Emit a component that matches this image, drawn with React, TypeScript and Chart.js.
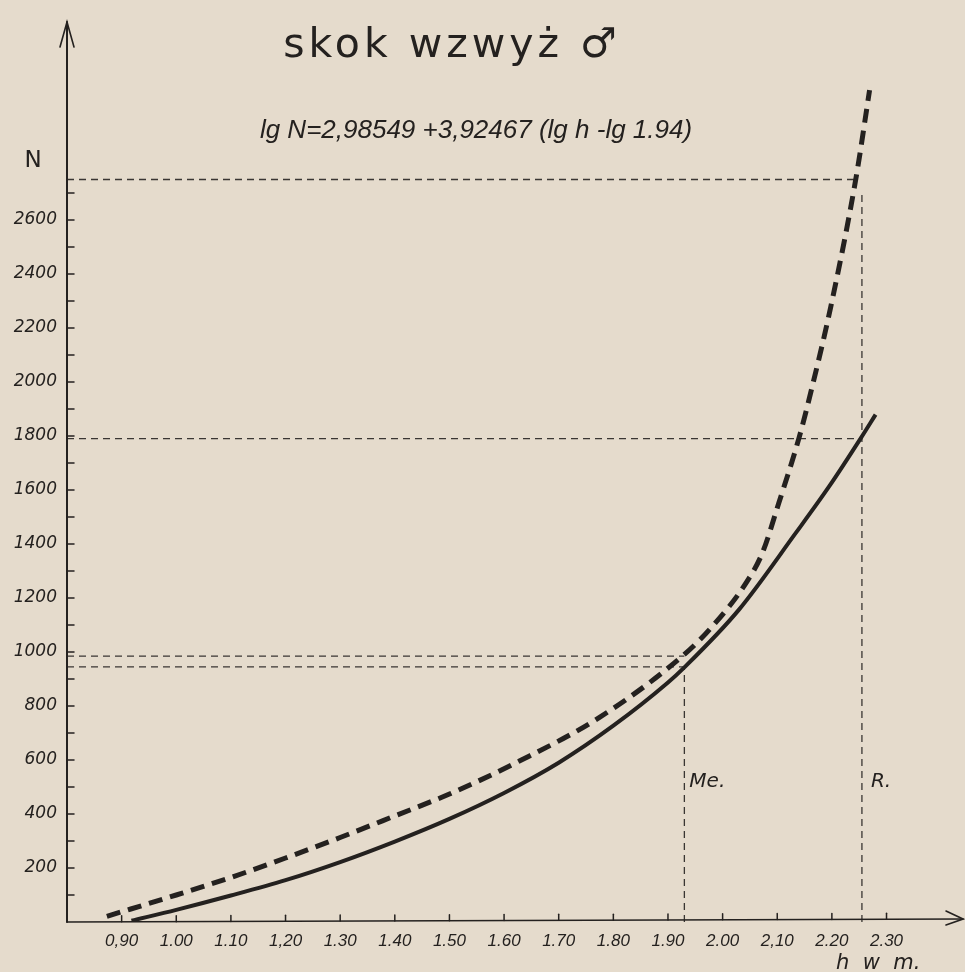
import React, { useEffect, useRef } from "react";
import { Chart, registerables } from "chart.js";

Chart.register(...registerables);

// ---- data ----
// height h (m) and number N for the solid (fitted) curve
const solidH = [0.918, 1.0, 1.1, 1.2, 1.3, 1.4, 1.5, 1.6, 1.7, 1.8, 1.9, 1.93, 2.03, 2.134, 2.195, 2.253, 2.28];
const solidN = [5, 45, 98, 155, 222, 298, 382, 478, 590, 727, 887, 943, 1157, 1441, 1613, 1792, 1879];

// height h (m) and number N for the thick dashed curve
const dashedH = [0.873, 1.0, 1.1, 1.2, 1.3, 1.4, 1.5, 1.628, 1.774, 1.93, 1.979, 2.043, 2.073, 2.103, 2.14, 2.164, 2.198, 2.244, 2.269];
const dashedN = [21, 100, 165, 237, 313, 393, 474, 596, 757, 991, 1090, 1256, 1368, 1553, 1794, 1983, 2279, 2754, 3081];

// guide lines: median (Me.) and record (R.)
const medianH = 1.93;
const medianNDashed = 985;
const medianNSolid = 945;
const recordH = 2.255;
const recordHDashed = 2.248;
const recordNDashed = 2750;
const recordNSolid = 1790;

// axes
const xMin = 0.8;
const xMax = 2.44;
const yMin = 0;
const yMax = 3300;
const xTickValues = [0.9, 1.0, 1.1, 1.2, 1.3, 1.4, 1.5, 1.6, 1.7, 1.8, 1.9, 2.0, 2.1, 2.2, 2.3];
const xTickLabels = ["0,90", "1.00", "1.10", "1,20", "1.30", "1.40", "1.50", "1.60", "1.70", "1.80", "1.90", "2.00", "2,10", "2.20", "2.30"];
const yTickValues = [100, 200, 300, 400, 500, 600, 700, 800, 900, 1000, 1100, 1200, 1300, 1400, 1500, 1600, 1700, 1800, 1900, 2000, 2100, 2200, 2300, 2400, 2500, 2600, 2700];
const yLabelValues = [200, 400, 600, 800, 1000, 1200, 1400, 1600, 1800, 2000, 2200, 2400, 2600];

const titleText = "skok wzwyż ♂";
const formulaText = "lg N=2,98549 +3,92467 (lg h -lg 1.94)";
const yAxisTitle = "N";
const xAxisTitle = "h  w  m.";
const medianLabel = "Me.";
const recordLabel = "R.";

const INK = "#24211f";
const PAPER = "#e5dbcc";

const toPoints = (xs: number[], ys: number[]) => xs.map((x, i) => ({ x, y: ys[i] }));

const guide = (pts: { x: number; y: number }[]) => ({
  data: pts,
  borderColor: "#3a3633",
  borderWidth: 1.3,
  borderDash: [7, 5],
  pointRadius: 0,
  tension: 0,
  fill: false,
});

const paperPlugin = {
  id: "paper",
  beforeDraw(chart: any) {
    const { ctx, width, height } = chart;
    ctx.save();
    ctx.fillStyle = PAPER;
    ctx.fillRect(0, 0, width, height);
    ctx.restore();
  },
};

const decorPlugin = {
  id: "decor",
  afterDraw(chart: any) {
    const { ctx, chartArea, scales } = chart;
    const xs = scales.x;
    const ys = scales.y;
    const x0 = chartArea.left;
    const y0 = chartArea.bottom;
    ctx.save();
    ctx.strokeStyle = INK;
    ctx.fillStyle = INK;
    ctx.lineCap = "round";

    // y axis with arrow
    ctx.lineWidth = 2;
    ctx.beginPath();
    ctx.moveTo(x0, y0);
    ctx.lineTo(x0, 22);
    ctx.stroke();
    ctx.lineWidth = 1.6;
    ctx.beginPath();
    ctx.moveTo(x0 - 7, 47);
    ctx.lineTo(x0, 22);
    ctx.lineTo(x0 + 7, 47);
    ctx.stroke();

    // x axis with arrow
    ctx.lineWidth = 1.6;
    ctx.beginPath();
    ctx.moveTo(x0, y0);
    ctx.lineTo(963, y0 - 3);
    ctx.stroke();
    ctx.beginPath();
    ctx.moveTo(946, y0 - 11);
    ctx.lineTo(963, y0 - 3);
    ctx.lineTo(946, y0 + 3);
    ctx.stroke();

    // tick marks (inside)
    ctx.lineWidth = 1.5;
    yTickValues.forEach((v) => {
      const py = ys.getPixelForValue(v);
      ctx.beginPath();
      ctx.moveTo(x0, py);
      ctx.lineTo(x0 + 7, py);
      ctx.stroke();
    });
    xTickValues.forEach((v) => {
      const px = xs.getPixelForValue(v);
      const base = y0 - ((px - x0) / (963 - x0)) * 3;
      ctx.beginPath();
      ctx.moveTo(px, base);
      ctx.lineTo(px, base - 6);
      ctx.stroke();
    });

    // texts
    ctx.textBaseline = "alphabetic";
    ctx.textAlign = "center";
    ctx.font = "41px 'DejaVu Sans'";
    try { (ctx as any).letterSpacing = "4px"; } catch (e) {}
    ctx.fillText(titleText, 452, 57);
    try { (ctx as any).letterSpacing = "0px"; } catch (e) {}

    ctx.font = "italic 26px 'Liberation Sans'";
    ctx.fillText(formulaText, 476, 138);

    ctx.font = "23px 'DejaVu Sans'";
    ctx.fillText(yAxisTitle, 33, 167);

    ctx.textAlign = "left";
    ctx.font = "italic 20px 'DejaVu Sans'";
    ctx.fillText(medianLabel, xs.getPixelForValue(medianH) + 5, 787);
    ctx.fillText(recordLabel, xs.getPixelForValue(recordH) + 9, 787);

    ctx.font = "italic 21px 'DejaVu Sans'";
    ctx.fillText(xAxisTitle, 836, 969);
    ctx.restore();
  },
};

export default function App() {
  const canvasRef = useRef<HTMLCanvasElement | null>(null);

  useEffect(() => {
    const canvas = canvasRef.current;
    if (!canvas) return;
    const chart = new Chart(canvas, {
      type: "line",
      data: {
        datasets: [
          {
            data: toPoints(solidH, solidN),
            borderColor: INK,
            borderWidth: 4,
            pointRadius: 0,
            cubicInterpolationMode: "monotone",
            fill: false,
          } as any,
          {
            data: toPoints(dashedH, dashedN),
            borderColor: INK,
            borderWidth: 5,
            borderDash: [14, 8],
            pointRadius: 0,
            cubicInterpolationMode: "monotone",
            fill: false,
          } as any,
          guide([{ x: xMin, y: recordNDashed }, { x: recordHDashed, y: recordNDashed }]),
          guide([{ x: xMin, y: recordNSolid }, { x: recordH, y: recordNSolid }]),
          guide([{ x: recordH, y: yMin }, { x: recordH, y: recordNDashed - 40 }]),
          guide([{ x: xMin, y: medianNDashed }, { x: medianH, y: medianNDashed }]),
          guide([{ x: xMin, y: medianNSolid }, { x: medianH, y: medianNSolid }]),
          guide([{ x: medianH, y: yMin }, { x: medianH, y: medianNSolid }]),
        ],
      },
      options: {
        responsive: false,
        animation: false,
        devicePixelRatio: 1,
        layout: { padding: { top: 31, right: 2, left: 0, bottom: 0 } },
        plugins: {
          legend: { display: false },
          tooltip: { enabled: false },
          title: { display: false },
        },
        scales: {
          x: {
            type: "linear",
            min: xMin,
            max: xMax,
            grid: { display: false, drawTicks: false },
            border: { display: false },
            afterBuildTicks: (scale: any) => {
              scale.ticks = xTickValues.map((v) => ({ value: v }));
            },
            afterFit: (scale: any) => {
              scale.height = 50;
            },
            ticks: {
              autoSkip: false,
              maxRotation: 0,
              padding: 9,
              color: INK,
              font: { family: "'Liberation Sans'", size: 17, style: "italic" },
              callback: (_v: any, i: number) => xTickLabels[i],
            },
          },
          y: {
            type: "linear",
            min: yMin,
            max: yMax,
            grid: { display: false, drawTicks: false },
            border: { display: false },
            afterBuildTicks: (scale: any) => {
              scale.ticks = yTickValues.map((v) => ({ value: v }));
            },
            afterFit: (scale: any) => {
              scale.width = 67;
            },
            ticks: {
              autoSkip: false,
              padding: 10,
              color: INK,
              font: { family: "'DejaVu Sans'", size: 17, style: "italic" },
              callback: (v: any) => (yLabelValues.includes(Number(v)) ? String(v) : ""),
            },
          },
        },
      },
      plugins: [paperPlugin, decorPlugin],
    });
    return () => chart.destroy();
  }, []);

  return (
    <div style={{ position: "fixed", left: 0, top: 0, width: 965, height: 972, background: PAPER }}>
      <canvas ref={canvasRef} width={965} height={972} style={{ display: "block", width: 965, height: 972 }} />
    </div>
  );
}
